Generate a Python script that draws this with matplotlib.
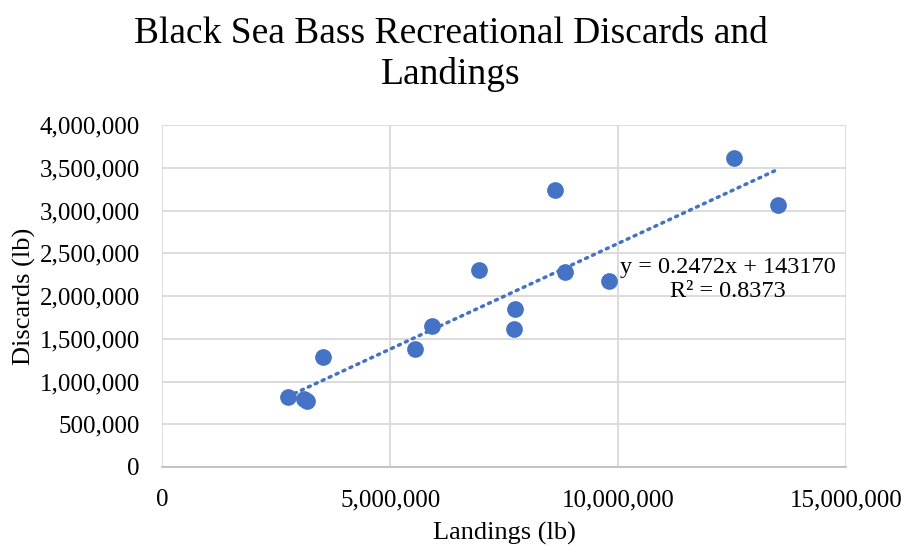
import matplotlib
matplotlib.use("Agg")
import matplotlib.pyplot as plt
from matplotlib.ticker import FuncFormatter
import numpy as np

landings = [2.75e6, 3.12e6, 3.18e6, 3.52e6, 5.55e6, 5.91e6, 6.96e6, 7.73e6, 7.71e6,
            8.62e6, 8.83e6, 9.79e6, 12.54e6, 13.51e6]
discards = [0.82e6, 0.79e6, 0.77e6, 1.29e6, 1.375e6, 1.65e6, 2.31e6, 1.85e6, 1.62e6,
            3.24e6, 2.28e6, 2.17e6, 3.61e6, 3.07e6]
slope = 0.2472
intercept = 143170
eq_text = "y = 0.2472x + 143170\nR² = 0.8373"
title = "Black Sea Bass Recreational Discards and\nLandings"
x_ticks = [0, 5e6, 10e6, 15e6]
y_ticks = [0, 5e5, 1e6, 1.5e6, 2e6, 2.5e6, 3e6, 3.5e6, 4e6]

plt.rcParams['font.family'] = ['Liberation Serif', 'DejaVu Serif']
blue = '#4472C4'
grid = '#D9D9D9'

fig = plt.figure(figsize=(9.01, 5.46), dpi=100)
ax = fig.add_axes([0.18, 0.1447, 0.759, 0.6263])

ax.scatter(landings, discards, s=145, color=blue, zorder=3, linewidths=0)
xs = np.array([min(landings), max(landings)])
ax.plot(xs, slope * xs + intercept, color=blue, lw=2.5, linestyle=(0, (0.6, 1.6)),
        dash_capstyle='round', zorder=2)

ax.set_xlim(0, 15e6)
ax.set_ylim(0, 4e6)
ax.set_xticks(x_ticks)
ax.set_yticks(y_ticks)
fmt = FuncFormatter(lambda v, p: f"{int(round(v)):,}")
ax.xaxis.set_major_formatter(fmt)
ax.yaxis.set_major_formatter(fmt)
ax.grid(True, color=grid, lw=1.3, zorder=0)
ax.set_axisbelow(True)
for s in ['top', 'right', 'left']:
    ax.spines[s].set_visible(False)
ax.spines['bottom'].set_color('#BFBFBF')
ax.spines['bottom'].set_linewidth(1.3)
ax.tick_params(length=0, labelsize=18)
ax.tick_params(axis='y', pad=16)
ax.tick_params(axis='x', pad=16)

ax.set_xlabel("Landings (lb)", fontsize=19, labelpad=8)
ax.set_ylabel("Discards (lb)", fontsize=19, labelpad=3)
fig.suptitle(title, fontsize=27, y=0.97, linespacing=1.22)

ax.text(12.4e6, 2.19e6, eq_text, fontsize=17.5, ha='center', va='center',
        linespacing=1.2, zorder=4)

fig.savefig("out.png", dpi=100)
